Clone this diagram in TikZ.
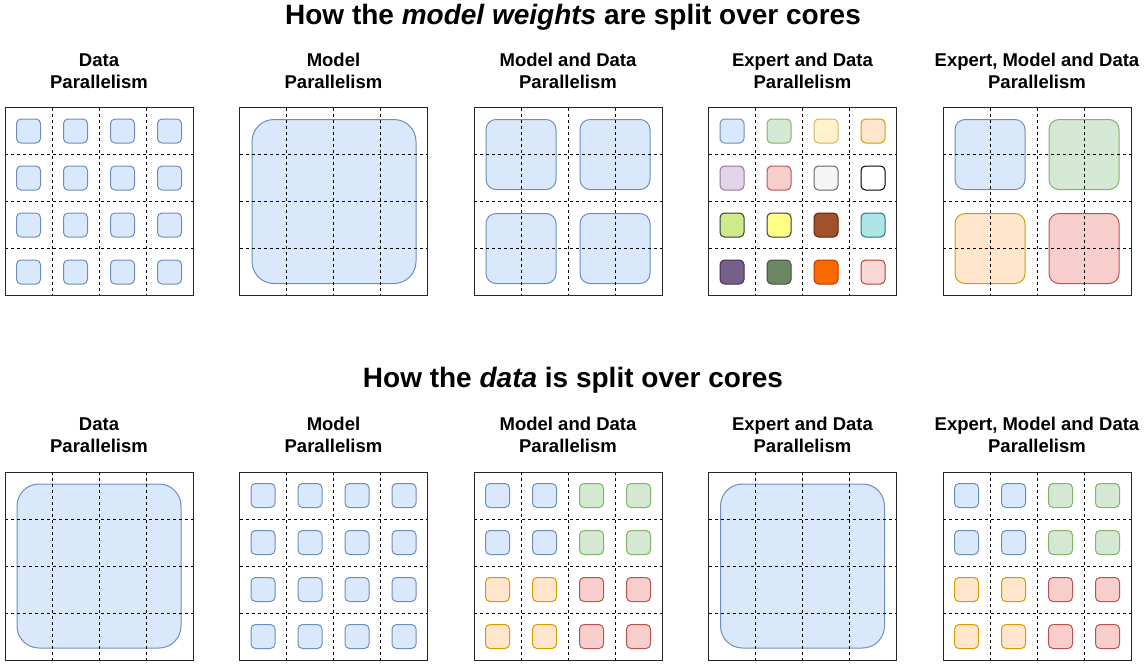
\documentclass[tikz,border=0pt]{standalone}
\usepackage{fontspec}
\setmainfont{Liberation Sans}
\usetikzlibrary{positioning}

\definecolor{blueF}{HTML}{DAE8FC}\definecolor{blueD}{HTML}{6C8EBF}
\definecolor{greenF}{HTML}{D5E8D4}\definecolor{greenD}{HTML}{82B366}
\definecolor{yellowF}{HTML}{FFF2CC}\definecolor{yellowD}{HTML}{D6B656}
\definecolor{orangeF}{HTML}{FFE6CC}\definecolor{orangeD}{HTML}{D79B00}
\definecolor{purpleF}{HTML}{E1D5E7}\definecolor{purpleD}{HTML}{9673A6}
\definecolor{redF}{HTML}{F8CECC}\definecolor{redD}{HTML}{B85450}
\definecolor{grayF}{HTML}{F5F5F5}\definecolor{grayD}{HTML}{666666}
\definecolor{limeF}{HTML}{CDEB8B}\definecolor{limeD}{HTML}{36393D}
\definecolor{lemonF}{HTML}{FFFF88}\definecolor{lemonD}{HTML}{36393D}
\definecolor{brownF}{HTML}{A0522D}\definecolor{brownD}{HTML}{6D1F00}
\definecolor{tealF}{HTML}{B0E3E6}\definecolor{tealD}{HTML}{0E8088}
\definecolor{plumF}{HTML}{76608A}\definecolor{plumD}{HTML}{432D57}
\definecolor{mossF}{HTML}{6D8764}\definecolor{mossD}{HTML}{3A5431}
\definecolor{flameF}{HTML}{FA6800}\definecolor{flameD}{HTML}{C73500}
\definecolor{pinkF}{HTML}{FAD9D5}\definecolor{pinkD}{HTML}{AE4132}
\definecolor{whiteF}{HTML}{FFFFFF}\definecolor{whiteD}{HTML}{000000}

\tikzset{
    heading/.style={font=\bfseries\fontsize{28}{32}\selectfont},
    caption/.style={font=\bfseries\fontsize{18.5}{22}\selectfont, align=center},
    frame/.style={draw=black!85, line width=1pt},
    divider/.style={draw=black, dash pattern=on 3pt off 3pt, line width=0.9pt},
    core/.style={fill=#1F, draw=#1D, line width=1pt, rounded corners=4.5pt},
    shard/.style={fill=#1F, draw=#1D, line width=1pt, rounded corners=10pt},
    whole/.style={fill=#1F, draw=#1D, line width=1pt, rounded corners=22pt},
}

% dashed core grid with its frame, top left corner at (#1,#2)
\newcommand{\coregrid}[2]{
    \foreach \k in {1,2,3} {
        \draw[divider] ({#1+47*\k},#2) -- ++(0,188);
        \draw[divider] (#1,{#2+47*\k}) -- ++(188,0);
    }
    \draw[frame] (#1,#2) rectangle ++(188,188);
}
% one small core in column #3, row #4 of the grid at (#1,#2)
\newcommand{\smallcore}[5]{
    \draw[core=#5] ({#1+47*(#3)+11.5},{#2+47*(#4)+11.5}) rectangle ++(24,24);
}

\begin{document}
\begin{tikzpicture}[x=1pt, y=-1pt]
    \useasboundingbox (0,0) rectangle (1146,665);

    \node[heading] (wtitle) at (573,17) {How the \textit{model weights} are split over cores};
    \node[heading] (dtitle) at (573,380) {How the \textit{data} is split over cores};

    \node[caption] (w1) at (99,71) {Data\\Parallelism};
    \node[caption] (w2) at (333.5,71) {Model\\Parallelism};
    \node[caption] (w3) at (568,71) {Model and Data\\Parallelism};
    \node[caption] (w4) at (802.5,71) {Expert and Data\\Parallelism};
    \node[caption] (w5) at (1037,71) {Expert, Model and Data\\Parallelism};

    \node[caption] (d1) at (99,435) {Data\\Parallelism};
    \node[caption] (d2) at (333.5,435) {Model\\Parallelism};
    \node[caption] (d3) at (568,435) {Model and Data\\Parallelism};
    \node[caption] (d4) at (802.5,435) {Expert and Data\\Parallelism};
    \node[caption] (d5) at (1037,435) {Expert, Model and Data\\Parallelism};

    % model weights
    \foreach \i in {0,...,3}
        \foreach \j in {0,...,3}
            \smallcore{5}{107.5}{\i}{\j}{blue};
    \draw[whole=blue] (252,119.5) rectangle ++(164,164);
    \foreach \qx/\qy in {0/0,1/0,0/1,1/1}
        \draw[shard=blue] ({474+94*\qx+12},{107.5+94*\qy+12}) rectangle ++(70,70);
    \foreach \c [count=\n from 0] in {blue,green,yellow,orange,purple,red,gray,white,
                                      lime,lemon,brown,teal,plum,moss,flame,pink} {
        \pgfmathtruncatemacro{\ci}{mod(\n,4)}
        \pgfmathtruncatemacro{\cj}{div(\n,4)}
        \smallcore{708.5}{107.5}{\ci}{\cj}{\c}
    }
    \foreach \qx/\qy/\c in {0/0/blue,1/0/green,0/1/orange,1/1/red}
        \draw[shard=\c] ({943+94*\qx+12},{107.5+94*\qy+12}) rectangle ++(70,70);

    % data
    \draw[whole=blue] (17,484) rectangle ++(164,164);
    \foreach \i in {0,...,3}
        \foreach \j in {0,...,3}
            \smallcore{239.5}{472}{\i}{\j}{blue};
    \draw[whole=blue] (720.5,484) rectangle ++(164,164);
    \foreach \gx in {474,943}
        \foreach \qx/\qy/\c in {0/0/blue,1/0/green,0/1/orange,1/1/red}
            \foreach \i in {0,1}
                \foreach \j in {0,1}
                    \smallcore{\gx}{472}{2*\qx+\i}{2*\qy+\j}{\c};

    \foreach \gx in {5,239.5,474,708.5,943} {
        \coregrid{\gx}{107.5}
        \coregrid{\gx}{472}
    }
\end{tikzpicture}
\end{document}
